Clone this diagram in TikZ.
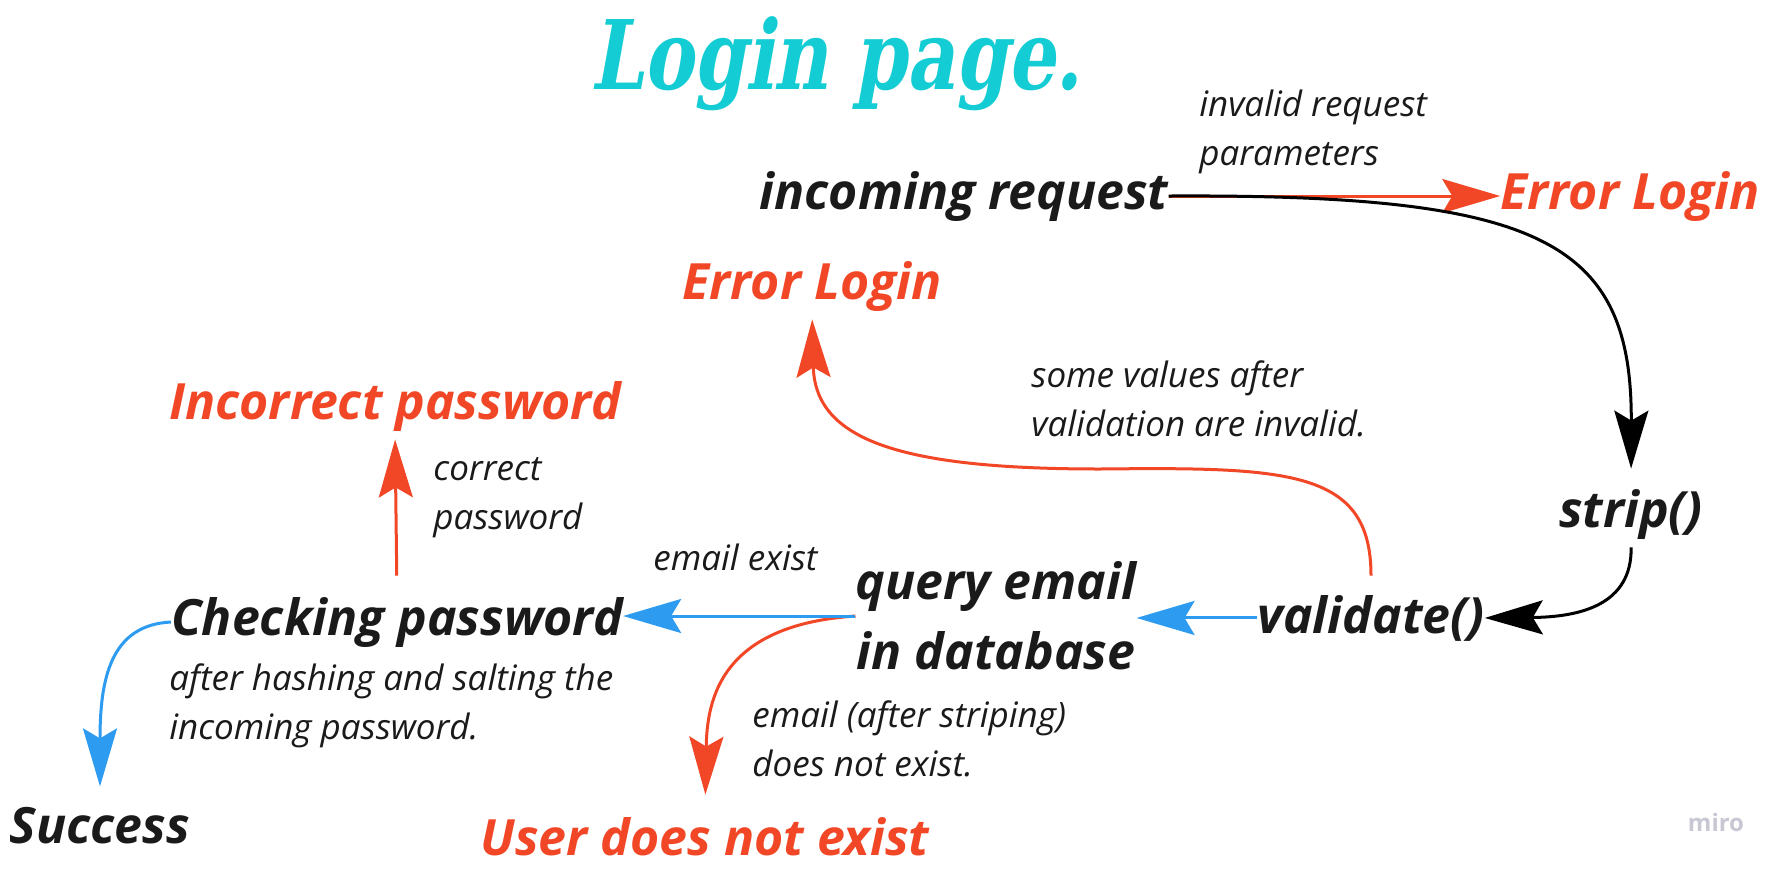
\documentclass[tikz,border=0pt]{standalone}
\usepackage{fontspec}
\setmainfont{Open Sans}
\newfontfamily\slabfont[FakeSlant=0.18,FakeStretch=0.78]{DejaVu Serif}
\usetikzlibrary{arrows.meta}
\definecolor{miroRed}{HTML}{F24726}
\definecolor{miroBlue}{HTML}{2D9BF0}
\definecolor{miroCyan}{HTML}{14CDD4}
\definecolor{miroGrey}{HTML}{C8C8D4}
\definecolor{ink}{HTML}{1A1A1A}

\begin{document}
\begin{tikzpicture}[x=0.5pt,y=-0.5pt,
  stage/.style={font=\bfseries\itshape\fontsize{25}{35}\selectfont,
    text=ink, inner sep=0pt, anchor=base},
  fail/.style={stage, text=miroRed},
  note/.style={font=\itshape\fontsize{17.5}{24.5}\selectfont,
    text=ink, inner sep=0pt, align=left, anchor=north west},
  link/.style={line width=1.5pt,
    -{Stealth[length=29pt,width=17pt,inset=5pt]}}]

\fill[white] (0,0) rectangle (1787,873);
\useasboundingbox (0,0) rectangle (1787,873);

\node[font=\slabfont\bfseries\fontsize{48}{50}\selectfont,
  text=miroCyan, inner sep=0pt, anchor=base]
(title)
at (836,89)
{Login page.};

% top row
\node[stage]
(incoming)
at (964,209)
{incoming request};

\node[fail]
(errright)
at (1630,209)
{Error Login};

\node[note]
(badparams)
at (1199,90)
{invalid request\\parameters};

\draw[link,miroRed]
(incoming.east)
--
(errright.west);

\node[stage]
(strip)
at (1631,527)
{strip()};

\draw[link,black,shorten >=10pt]
(incoming.east)
.. controls (1540,194) and (1632,240) ..
(strip.north);

\node[stage]
(validate)
at (1371,633)
{validate()};

\draw[link,black,shorten <=4pt]
(strip.south)
.. controls (1632,605) and (1580,617) ..
(validate.east);

% validation fails
\node[fail]
(errleft)
at (812,299)
{Error Login};

\node[note]
(invalidvals)
at (1031,360)
{some values after\\validation are invalid.};

\draw[link,miroRed,shorten <=9.5pt,shorten >=4pt]
(validate.north)
.. controls (1371,470) and (1290,467) .. (1100,469)
.. controls (900,469) and (815,440) ..
(errleft.south);

% database lookup
\node[stage,align=center,anchor=center]
(query)
at (996,616)
{query email\\in database};

\draw[link,miroBlue]
(validate.west)
--
(validate.west -| query.east);

\node[fail]
(nouser)
at (705,855)
{User does not exist};

\node[note]
(nomail)
at (752,700)
{email (after striping)\\does not exist.};

\draw[link,miroRed,shorten >=11pt]
(query.west)
.. controls (720,625) and (707,700) ..
(nouser.north);

% password check
\node[stage]
(checking)
at (397,635)
{Checking password};

\node[note,anchor=base west]
(mailok)
at (653,570)
{email exist};

\draw[link,miroBlue]
(query.west)
--
(query.west -| checking.east);

\node[note]
(hashing)
at (169,663)
{after hashing and salting the\\incoming password.};

\node[fail]
(incorrect)
at (395,419)
{Incorrect password};

\node[note]
(pwdok)
at (433,457)
{correct\\password};

\draw[link,miroRed,shorten <=10.5pt,shorten >=4pt]
(checking.north)
--
(incorrect.south);

\node[stage]
(success)
at (100,843)
{Success};

\draw[link,miroBlue,shorten >=10pt]
(checking.west)
.. controls (110,625) and (100,680) ..
(success.north);

\node[font=\bfseries\fontsize{12}{12}\selectfont,
  text=miroGrey, inner sep=0pt, anchor=base]
(logo)
at (1716,831)
{miro};

\end{tikzpicture}
\end{document}
